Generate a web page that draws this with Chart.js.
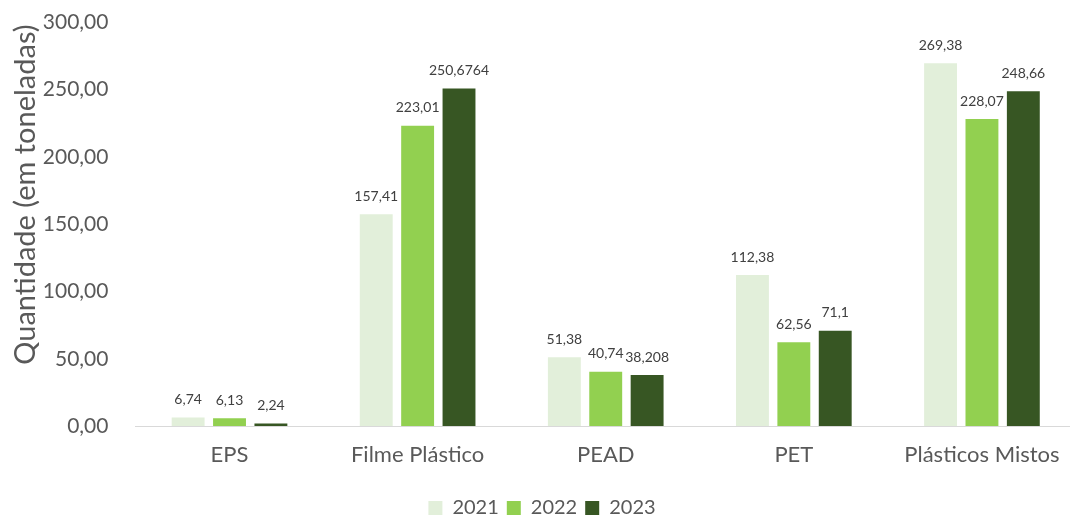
<!DOCTYPE html>
<html>
<head>
<meta charset="utf-8">
<script src="https://cdn.jsdelivr.net/npm/chart.js@4"></script>
<style>
  html, body { margin: 0; padding: 0; background: #ffffff; overflow: hidden; }
  #wrap { width: 1076px; height: 520px; position: relative; }
</style>
</head>
<body>
<div id="wrap"><canvas id="chart"></canvas></div>
<script>
// Dados do gráfico
const categorias = ["EPS", "Filme Plástico", "PEAD", "PET", "Plásticos Mistos"];
const anos = ["2021", "2022", "2023"];
const valores2021 = [6.74, 157.41, 51.38, 112.38, 269.38];
const valores2022 = [6.13, 223.01, 40.74, 62.56, 228.07];
const valores2023 = [2.24, 250.6764, 38.208, 71.1, 248.66];
const rotulos2021 = ["6,74", "157,41", "51,38", "112,38", "269,38"];
const rotulos2022 = ["6,13", "223,01", "40,74", "62,56", "228,07"];
const rotulos2023 = ["2,24", "250,6764", "38,208", "71,1", "248,66"];
const cores = ["#e2efda", "#92d050", "#375623"];

const FONTE = "Lato, 'Open Sans', sans-serif";

// Plugin simples para rótulos de dados acima das barras
const rotulosPlugin = {
  id: "rotulos",
  afterDatasetsDraw(chart) {
    const ctx = chart.ctx;
    ctx.save();
    ctx.font = "14px " + FONTE;
    ctx.fillStyle = "#404040";
    ctx.textAlign = "center";
    ctx.textBaseline = "bottom";
    chart.data.datasets.forEach((ds, i) => {
      const meta = chart.getDatasetMeta(i);
      meta.data.forEach((bar, j) => {
        ctx.fillText(ds.rotulos[j], bar.x, bar.y - 11);
      });
    });
    ctx.restore();
  }
};

new Chart(document.getElementById("chart"), {
  type: "bar",
  data: {
    labels: categorias,
    datasets: [
      { label: anos[0], data: valores2021, rotulos: rotulos2021, backgroundColor: cores[0] },
      { label: anos[1], data: valores2022, rotulos: rotulos2022, backgroundColor: cores[1] },
      { label: anos[2], data: valores2023, rotulos: rotulos2023, backgroundColor: cores[2] }
    ]
  },
  options: {
    responsive: true,
    maintainAspectRatio: false,
    animation: false,
    categoryPercentage: 0.66,
    barPercentage: 0.795,
    layout: { autoPadding: false, padding: { left: 8, right: 0, top: 22, bottom: -8 } },
    plugins: {
      legend: {
        position: "bottom",
        labels: {
          color: "#595959",
          font: { family: FONTE, size: 20 },
          boxWidth: 14,
          boxHeight: 14,
          padding: 8
        }
      },
      tooltip: { enabled: false }
    },
    scales: {
      x: {
        grid: { display: false, drawTicks: false },
        border: { color: "#d9d9d9", width: 1 },
        ticks: { color: "#595959", font: { family: FONTE, size: 22 }, padding: 15 },
        afterFit: (scale) => { scale.height += 7; }
      },
      y: {
        min: 0,
        max: 300,
        // marcas de tick transparentes: só criam o espaço entre rótulos e área do gráfico
        grid: { display: true, drawOnChartArea: false, drawTicks: true, tickLength: 27, tickColor: "rgba(0,0,0,0)", color: "rgba(0,0,0,0)" },
        border: { display: false },
        ticks: {
          stepSize: 50,
          color: "#595959",
          font: { family: FONTE, size: 21 },
          padding: 0,
          callback: (v) => v.toFixed(2).replace(".", ",")
        },
        title: {
          display: true,
          text: "        Quantidade (em toneladas)",
          color: "#595959",
          font: { family: FONTE, size: 29 },
          padding: { top: 0, bottom: 0 }
        }
      }
    }
  },
  plugins: [rotulosPlugin]
});
</script>
</body>
</html>
